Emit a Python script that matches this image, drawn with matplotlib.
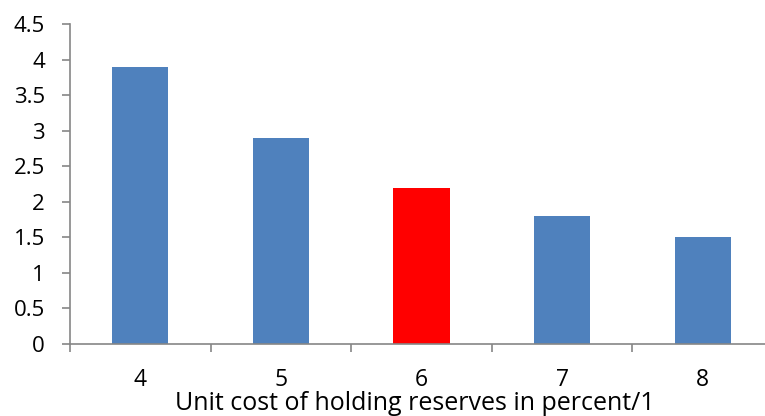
import matplotlib
matplotlib.use("Agg")
from matplotlib import pyplot as plt
import numpy as np

categories = ["4", "5", "6", "7", "8"]
values = [3.9, 2.9, 2.2, 1.8, 1.5]
colors = ["#4F81BD", "#4F81BD", "#FF0000", "#4F81BD", "#4F81BD"]

plt.rcParams['font.family'] = ['Open Sans', 'DejaVu Sans']

fig = plt.figure(figsize=(7.65, 4.16), dpi=100)
ax = fig.add_axes([70/765, 72/416, 703/765, 320/416])

x = np.arange(len(categories))
ax.bar(x, values, width=0.4, color=colors)

ax.set_xlim(-0.5, len(categories) - 0.5)
ax.set_ylim(0, 4.5)
ax.set_yticks(np.arange(0, 4.51, 0.5))
ax.set_yticklabels(["0", "0.5", "1", "1.5", "2", "2.5", "3", "3.5", "4", "4.5"])

ax.set_xticks(x)
ax.set_xticklabels(categories)
ax.set_xticks(np.arange(-0.5, len(categories), 1), minor=True)
ax.tick_params(axis="x", which="major", length=0, pad=17, labelsize=16.5)
ax.tick_params(axis="x", which="minor", length=6, color="#868686", width=1.2)
ax.tick_params(axis="y", length=6, color="#868686", width=1.2, labelsize=16, pad=12)

for s in ["top", "right"]:
    ax.spines[s].set_visible(False)
for s in ["left", "bottom"]:
    ax.spines[s].set_color("#868686")
    ax.spines[s].set_linewidth(1.2)

ax.set_xlabel("Unit cost of holding reserves in percent/1", fontsize=18)
ax.xaxis.set_label_coords(0.491, -0.146)

fig.savefig("out.png", dpi=100)
plt.close()
